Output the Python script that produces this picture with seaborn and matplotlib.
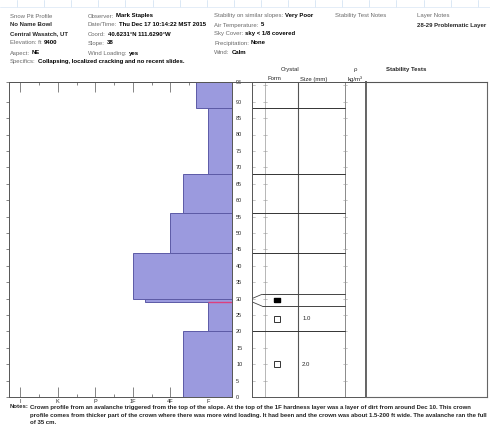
import numpy as np
import pandas as pd
import matplotlib
matplotlib.use("Agg")
import matplotlib.pyplot as plt
from matplotlib.lines import Line2D
import seaborn as sns

# Snow layers, cm above ground, with hand hardness (F=1, 4F=2, 1F=3, P=4, K=5, I=6)
layer_bottom = [0, 20, 29, 30, 44, 56, 68, 88]
layer_top = [20, 29, 30, 44, 56, 68, 88, 96]
hardness = [1.67, 1.0, 2.67, 3.0, 2.0, 1.67, 1.0, 1.33]

hardness_ticks = [6, 5, 4, 3, 2, 1]
hardness_labels = ["I", "K", "P", "1F", "4F", "F"]
depth_ticks = [0, 5, 10, 15, 20, 25, 30, 35, 40, 45, 50, 55, 60, 65, 70, 75, 80, 85, 90, 96]

# Grain observations: layer index, form (open/filled square), size in mm
grain_layer = [0, 1, 2]
grain_filled = [False, False, True]
grain_size = ["2.0", "1.0", ""]

failure_height = 29

W, H = 490, 425
FS = 4.3
sns.set_theme(style="white")
plt.rcParams["font.family"] = ["Liberation Sans", "DejaVu Sans"]

fig = plt.figure(figsize=(W / 100, H / 100), dpi=100)
fig.patch.set_facecolor("white")


def box(x0, y0, x1, y1):
    return [x0 / W, 1 - y1 / H, (x1 - x0) / W, (y1 - y0) / H]


def ftext(x, y, s, **kw):
    kw.setdefault("fontsize", FS)
    kw.setdefault("va", "center")
    return fig.text(x / W, 1 - y / H, s, **kw)


GRAY = "#6a6a6a"
TOP = 96

# ---- spreadsheet grid remnants along the top edge ----
for gx in np.arange(17, W, 27.1):
    fig.add_artist(Line2D([gx / W, gx / W], [1, 1 - 7 / H], color="#d4e4f4", lw=0.6))
fig.add_artist(Line2D([0, 1], [1 - 7 / H, 1 - 7 / H], color="#dfeaf6", lw=0.6))

# ---- header ----
renderer = fig.canvas.get_renderer()


def field(x, y, label, value):
    t = ftext(x, y, label, color=GRAY)
    bb = t.get_window_extent(renderer=renderer)
    ftext(bb.x1 + 2, y, value, color="black", fontweight="bold")


rows = [16, 25, 34, 43, 53, 62]
ftext(10, rows[0], "Snow Pit Profile", color=GRAY)
ftext(10, rows[1], "No Name Bowl", fontweight="bold")
ftext(10, rows[2], "Central Wasatch, UT", fontweight="bold")
field(10, rows[3], "Elevation: ft", "9400")
field(10, rows[4], "Aspect:", "NE")
field(10, rows[5], "Specifics:", "Collapsing, localized cracking and no recent slides.")

field(88, rows[0], "Observer:", "Mark Staples")
field(88, rows[1], "Date/Time:", "Thu Dec 17 10:14:22 MST 2015")
field(88, rows[2], "Coord:", "40.6231°N 111.6290°W")
field(88, rows[3], "Slope:", "38")
field(88, rows[4], "Wind Loading:", "yes")

field(214, rows[0], "Stability on similar slopes:", "Very Poor")
field(214, rows[1], "Air Temperature:", "5")
field(214, rows[2], "Sky Cover:", "sky < 1/8 covered")
field(214, rows[3], "Precipitation:", "None")
field(214, rows[4], "Wind:", "Calm")

ftext(335, rows[0], "Stability Test Notes", color=GRAY)
ftext(417, rows[0], "Layer Notes", color=GRAY)
ftext(417, rows[1], "28-29 Problematic Layer", fontweight="bold")

# ---- hardness profile ----
ax = fig.add_axes(box(9, 82, 232, 397))
layers = pd.DataFrame({
    "mid": [(b + t) / 2 for b, t in zip(layer_bottom, layer_top)],
    "hardness": hardness,
})
edges = sorted(set(layer_bottom + layer_top))
sns.histplot(data=layers, y="mid", weights="hardness", bins=edges,
             color="#9b9ade", edgecolor="#5c5aa6", linewidth=0.7, alpha=1,
             ax=ax)
ax.set_xlim(6.3, 0.36)
ax.set_ylim(0, TOP)
ax.set_xlabel("")
ax.set_ylabel("")
ax.hlines(failure_height, 1.0, 0.36, color="#dd3f7e", lw=1.0, zorder=5)

ax.set_xticks(hardness_ticks)
ax.set_xticklabels(hardness_labels)
ax.set_xticks([5.5, 4.5, 3.5, 2.5, 1.5], minor=True)
ax.tick_params(axis="x", which="major", direction="in", length=7, width=0.5,
               top=True, bottom=True, labelsize=4, pad=1.5, color="#555555")
ax.tick_params(axis="x", which="minor", direction="in", length=2.5, width=0.5,
               top=True, bottom=True, color="#555555")
ax.set_yticks(depth_ticks)
ax.tick_params(axis="y", which="major", direction="out", length=2.5, width=0.5,
               left=True, right=False, labelleft=False, color="#555555")
sec = ax.secondary_yaxis("right")
sec.set_yticks(depth_ticks)
sec.set_yticklabels([str(v) for v in depth_ticks])
sec.tick_params(direction="in", length=2.5, width=0.5, labelsize=4, pad=3,
                color="#555555")
for s in sec.spines.values():
    s.set_visible(False)
for s in ax.spines.values():
    s.set_color("#555555")
    s.set_linewidth(0.7)
ax.grid(False)

# ---- grain table ----
tx = fig.add_axes(box(252, 82, 366, 397))
tx.set_xlim(0, 1)
tx.set_ylim(0, TOP)
tx.set_xticks([])
tx.set_yticks([])
for s in tx.spines.values():
    s.set_color("#555555")
    s.set_linewidth(0.7)
tx.spines["right"].set_linewidth(1.4)
tx.spines["right"].set_color("#666666")

FORM_X, SIZE_X, RHO_X = 0.114, 0.404, 0.816
tx.axvline(FORM_X, color="#9a9a9a", lw=0.5)
tx.axvline(SIZE_X, color="#555555", lw=0.8)
tx.axvline(RHO_X, color="#777777", lw=0.6)
for yv in np.arange(5, TOP, 5):
    for cx in (FORM_X, RHO_X):
        tx.plot([cx - 0.02, cx + 0.02], [yv, yv], color="#999999", lw=0.4)
    tx.plot([0, 0.03], [yv, yv], color="#999999", lw=0.4)

# display heights for rows, widening thin layers so symbols fit
disp_b = list(layer_bottom)
disp_t = list(layer_top)
for i, (b, t) in enumerate(zip(layer_bottom, layer_top)):
    if t - b < 3:
        m = (b + t) / 2
        disp_b[i], disp_t[i] = m - 1.8, m + 1.8
        if i > 0:
            disp_t[i - 1] = disp_b[i]
        if i + 1 < len(layer_bottom):
            disp_b[i + 1] = disp_t[i]

BRACKET_X = 0.088
for i in range(1, len(layer_bottom)):
    actual = layer_bottom[i]
    shown = disp_b[i]
    if abs(actual - shown) > 1e-6:
        tx.plot([0, BRACKET_X], [actual, shown], color="#444444", lw=0.6)
        tx.plot([BRACKET_X, RHO_X], [shown, shown], color="#444444", lw=0.7)
    else:
        tx.plot([0, RHO_X], [shown, shown], color="#333333", lw=0.7)

rect_marker = [(-1, -0.55), (1, -0.55), (1, 0.55), (-1, 0.55), (-1, -0.55)]
for li, filled, size in zip(grain_layer, grain_filled, grain_size):
    yc = (disp_b[li] + disp_t[li]) / 2
    if filled:
        tx.plot(0.22, yc, marker=rect_marker, ms=5, color="black", mec="black")
    else:
        tx.plot(0.22, yc, marker="s", ms=4.2, mfc="white", mec="#333333", mew=0.7)
    if size:
        tx.text(0.44, yc, size, fontsize=FS, va="center", ha="left")

ftext(290, 69, "Crystal", ha="center")
ftext(267, 79, "Form")
ftext(300, 79, "Size (mm)")
ftext(355, 69, "ρ", ha="center")
ftext(355, 79, "kg/m³", ha="center")

# ---- stability tests panel ----
sx = fig.add_axes(box(366, 82, 487, 397))
sx.set_xticks([])
sx.set_yticks([])
for s in sx.spines.values():
    s.set_color("#666666")
    s.set_linewidth(0.8)
sx.spines["left"].set_linewidth(1.4)
ftext(406, 69, "Stability Tests", ha="center", fontweight="bold")

# continuous top rule across the panels
fig.add_artist(Line2D([9 / W, 487 / W], [1 - 82 / H, 1 - 82 / H], color="#555555", lw=0.7))

# ---- notes ----
ftext(10, 407, "Notes:", fontweight="bold")
ftext(30, 407, "Crown profile from an avalanche triggered from the top of the slope. At the top of the 1F hardness layer was a layer of dirt from around Dec 10. This crown",
      fontweight="bold", color="#222222")
ftext(30, 415, "profile comes from thicker part of the crown where there was more wind loading. It had been and the crown was about 1.5-200 ft wide. The avalanche ran the full",
      fontweight="bold", color="#222222")
ftext(30, 423, "of 35 cm.", fontweight="bold", color="#222222")

fig.savefig("out.png", dpi=100, facecolor="white")
